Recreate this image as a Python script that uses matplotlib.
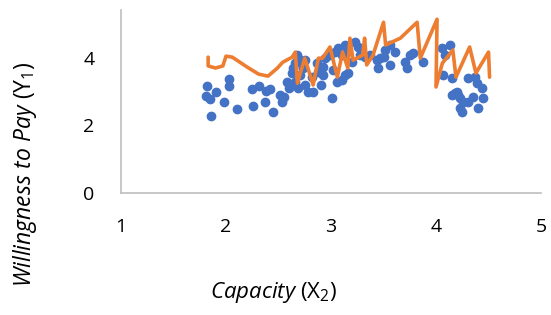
import matplotlib.pyplot as plt

plt.rcParams['font.family'] = 'Open Sans'
plt.rcParams['mathtext.fontset'] = 'custom'
plt.rcParams['mathtext.rm'] = 'Open Sans'
plt.rcParams['mathtext.it'] = 'Open Sans:italic'

# scatter points (capacity, willingness to pay)
cap = [1.82, 1.81, 1.85, 1.90, 1.86, 1.98, 2.03, 2.03, 2.10, 2.25, 2.26, 2.31, 2.37, 2.38,
       2.42, 2.45, 2.53, 2.55, 2.58, 2.60, 2.51, 2.63, 2.64, 2.66, 2.69, 2.75, 2.73, 2.70,
       2.66, 2.69, 2.75, 2.78, 2.83, 2.82, 2.87, 2.88, 2.92, 2.94, 2.99, 3.04, 3.07, 3.10,
       3.15, 3.20, 3.23, 3.26, 3.28, 3.32, 3.37, 3.44, 3.45, 3.01, 2.92, 2.90, 3.06, 3.10,
       3.13, 3.16, 3.02, 3.13, 3.50, 3.56, 3.56, 3.61, 3.70, 3.72, 3.75, 3.78, 3.88, 4.06,
       4.13, 4.09, 4.07, 4.15, 4.30, 4.37, 4.39, 4.44, 4.18, 4.21, 4.23, 4.26, 4.30, 4.35,
       4.45, 4.23, 4.25, 4.40, 4.15, 4.20, 3.51, 3.47, 2.68, 2.72]
wtp = [3.16, 2.86, 2.77, 2.98, 2.27, 2.68, 3.36, 3.16, 2.48, 3.07, 2.57, 3.16, 2.68, 3.01,
       3.07, 2.39, 2.68, 2.83, 3.27, 3.10, 2.89, 3.54, 3.69, 3.83, 3.98, 3.92, 3.69, 3.48,
       3.27, 3.10, 3.19, 2.98, 2.98, 3.42, 3.83, 3.57, 3.48, 3.98, 4.07, 4.16, 4.28, 4.07,
       4.16, 3.86, 4.45, 4.31, 4.07, 4.01, 4.07, 3.92, 3.69, 2.80, 3.72, 3.19, 3.27, 3.33,
       3.48, 3.54, 3.63, 4.37, 4.01, 4.37, 3.78, 4.16, 3.86, 3.69, 4.07, 4.13, 3.86, 4.28,
       4.37, 4.07, 3.48, 3.39, 3.39, 3.42, 3.24, 3.10, 2.95, 2.89, 2.80, 2.68, 2.68, 2.83,
       2.80, 2.51, 2.39, 2.51, 2.89, 2.98, 4.22, 3.98, 4.07, 3.86]

# orange line
line_x = [1.83, 1.83, 1.90, 1.97, 2.00, 2.06, 2.20, 2.31, 2.40, 2.49, 2.54, 2.63, 2.66,
          2.68, 2.75, 2.83, 2.88, 2.92, 2.99, 3.06, 3.11, 3.16, 3.18, 3.21, 3.30, 3.32,
          3.34, 3.40, 3.50, 3.52, 3.66, 3.82, 3.85, 4.01, 4.00, 4.06, 4.16, 4.19, 4.32,
          4.38, 4.50, 4.51]
line_y = [4.01, 3.75, 3.69, 3.75, 4.04, 4.01, 3.72, 3.51, 3.45, 3.69, 3.86, 4.01, 4.16,
          3.24, 3.98, 3.19, 3.98, 3.98, 4.31, 3.42, 4.16, 3.69, 4.57, 3.92, 4.07, 4.57,
          3.78, 4.07, 5.04, 4.37, 4.57, 5.04, 3.98, 5.13, 3.13, 3.83, 4.22, 3.42, 4.31,
          3.54, 4.16, 3.42]

fig = plt.figure(figsize=(5.51, 3.15), dpi=100)
ax = fig.add_axes([0.2196, 0.3873, 0.7623, 0.5807])

ax.scatter(cap, wtp, s=36, color='#4472C4', zorder=2)
ax.plot(line_x, line_y, color='#ED7D31', linewidth=2.6, solid_joinstyle='round',
        solid_capstyle='round', zorder=3)

ax.set_xlim(1, 5)
ax.set_ylim(0, 5.4)
ax.set_xticks([1, 2, 3, 4, 5])
ax.set_yticks([0, 2, 4])

for s in ['top', 'right']:
    ax.spines[s].set_visible(False)
for s in ['left', 'bottom']:
    ax.spines[s].set_color('#BFBFBF')
    ax.spines[s].set_linewidth(1.2)
ax.tick_params(length=0, labelsize=14, colors='black')
ax.tick_params(axis='x', pad=18)
ax.tick_params(axis='y', pad=19)

fig.text(0.497, 0.07, r'$\it{Capacity}$ (X$_2$)', ha='center', va='center', fontsize=16)
fig.text(0.045, 0.448, r'$\it{Willingness\ to\ Pay}$ (Y$_1$)', ha='center', va='center',
         rotation=90, fontsize=16.5)

fig.savefig('out.png', dpi=100)
